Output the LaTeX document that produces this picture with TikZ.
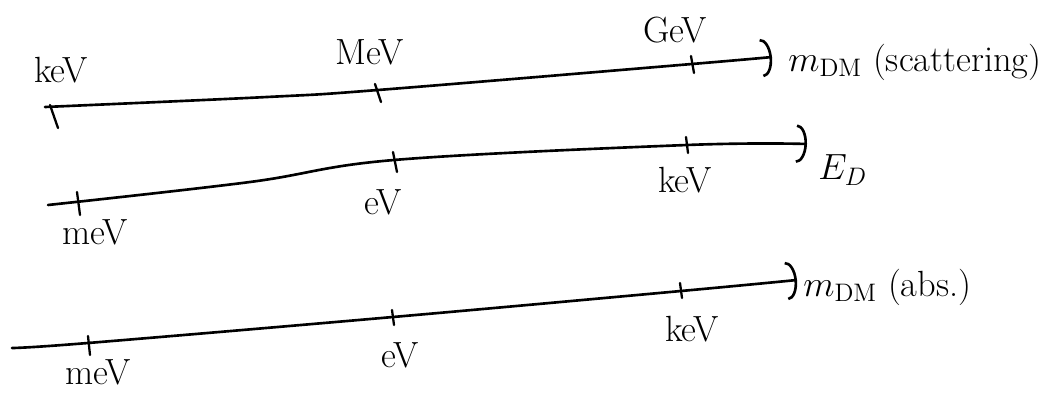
\documentclass[tikz,border=0pt]{standalone}
\usetikzlibrary{arrows.meta}
\begin{document}
\begin{tikzpicture}[x=0.02cm,y=-0.02cm,
  axisline/.style={line width=1.5pt, line cap=round, -{Arc Barb[length=6pt,width=22pt,line width=1.5pt]}},
  tickmark/.style={line width=1.3pt, line cap=round},
  lab/.style={font=\huge, inner sep=0pt}]
\useasboundingbox (0,0) rectangle (1045,412);

% ---- row 1: m_DM (scattering)
\coordinate (a1) at (45,107);
\coordinate (a2) at (267,97);
\coordinate (a3) at (378,90);
\coordinate (a5) at (692,64);
\coordinate (a6) at (772,57);
\draw[axisline] plot[smooth, tension=0.6] coordinates {(a1) (a2) (a3) (a5) (a6)};
\coordinate (t1a) at (50,105); \coordinate (t1b) at (58,128);
\coordinate (t2a) at (375,84); \coordinate (t2b) at (381,102);
\coordinate (t3a) at (691,56); \coordinate (t3b) at (694,73);
\draw[tickmark] (t1a) -- (t1b);
\draw[tickmark] (t2a) -- (t2b);
\draw[tickmark] (t3a) -- (t3b);
\node[lab] (k1) at (61,70) {keV};
\node[lab] (m1) at (370,52) {MeV};
\node[lab] (g1) at (675,30) {GeV};
\node[lab, anchor=west] (n1) at (788,62) {$m_{\mathrm{DM}}$ (scattering)};

% ---- row 2: E_D
\coordinate (b1) at (48,205);
\coordinate (b3) at (250,182);
\coordinate (b4) at (394,160);
\coordinate (b6) at (687,145);
\coordinate (b7) at (807,144);
\draw[axisline] plot[smooth, tension=0.6] coordinates {(b1) (b3) (b4) (b6) (b7)};
\coordinate (u1a) at (77,192); \coordinate (u1b) at (80,215);
\coordinate (u2a) at (393,152); \coordinate (u2b) at (397,172);
\coordinate (u3a) at (686,137); \coordinate (u3b) at (688,153);
\draw[tickmark] (u1a) -- (u1b);
\draw[tickmark] (u2a) -- (u2b);
\draw[tickmark] (u3a) -- (u3b);
\node[lab] (k2) at (95,232) {meV};
\node[lab] (m2) at (383,202) {eV};
\node[lab] (g2) at (685,180) {keV};
\node[lab, anchor=west] (n2) at (818,170) {$E_{D}$};

% ---- row 3: m_DM (abs.)
\coordinate (c1) at (12,348);
\coordinate (c2) at (88,343);
\coordinate (c4) at (393,317);
\coordinate (c6) at (681,291);
\coordinate (c7) at (797,280);
\draw[axisline] plot[smooth, tension=0.6] coordinates {(c1) (c2) (c4) (c6) (c7)};
\coordinate (v1a) at (88,336); \coordinate (v1b) at (90,355);
\coordinate (v2a) at (392,310); \coordinate (v2b) at (394,325);
\coordinate (v3a) at (680,283); \coordinate (v3b) at (682,298);
\draw[tickmark] (v1a) -- (v1b);
\draw[tickmark] (v2a) -- (v2b);
\draw[tickmark] (v3a) -- (v3b);
\node[lab] (k3) at (98,372) {meV};
\node[lab] (m3) at (400,355) {eV};
\node[lab] (g3) at (692,329) {keV};
\node[lab, anchor=west] (n3) at (803,287) {$m_{\mathrm{DM}}$ (abs.)};
\end{tikzpicture}
\end{document}
